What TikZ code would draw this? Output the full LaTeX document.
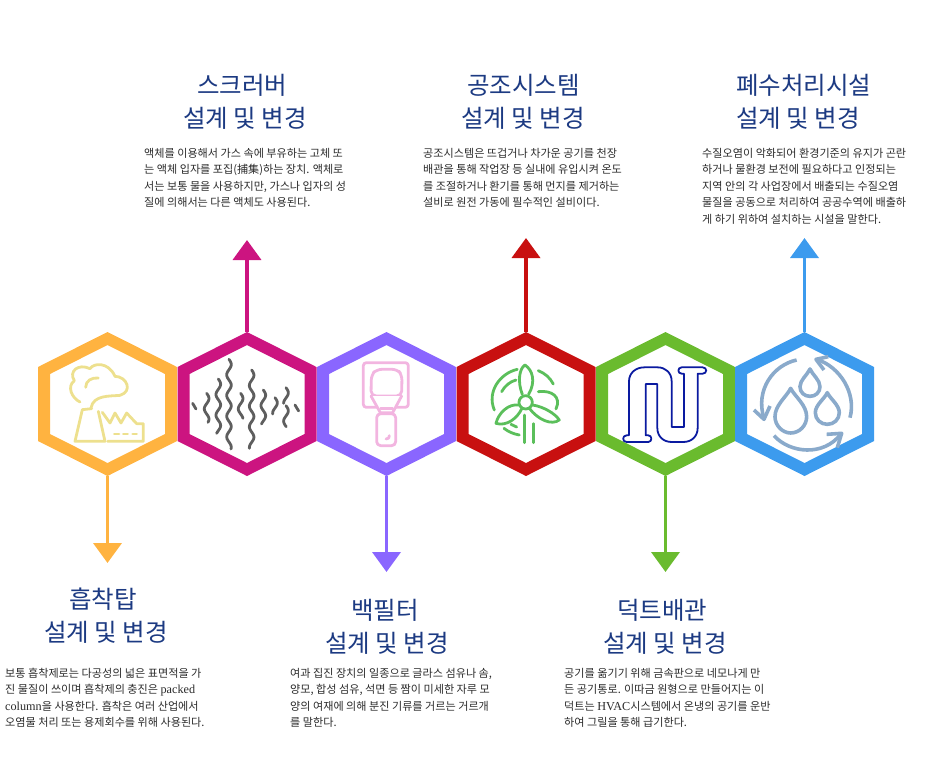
\documentclass[tikz,border=0pt]{standalone}
\usepackage{fontspec}
\usetikzlibrary{arrows.meta}
\setmainfont{Noto Sans CJK KR}
\newfontfamily\latfont[Scale=1.1]{Liberation Serif}
\definecolor{cOrange}{HTML}{FFB340}
\definecolor{cMagenta}{HTML}{CC1480}
\definecolor{cViolet}{HTML}{8A66FF}
\definecolor{cRed}{HTML}{C81010}
\definecolor{cGreen}{HTML}{6ABB2E}
\definecolor{cBlue}{HTML}{3C9BEE}
\definecolor{cTitle}{HTML}{1C3A82}
\definecolor{cBody}{HTML}{2A2A2A}
\definecolor{iYellow}{HTML}{EDE08E}
\definecolor{iGrey}{HTML}{5E5E5E}
\definecolor{iPink}{HTML}{F2B5E0}
\definecolor{iGreen}{HTML}{5BBF5B}
\definecolor{iNavy}{HTML}{0A1AA0}
\definecolor{iSteel}{HTML}{8AAACB}
\tikzset{
  x=1pt,y=-1pt,
  hexbox/.style={minimum width=139pt,minimum height=144pt,inner sep=0pt,outer sep=0pt},
  conn/.style={line width=3.8pt,-{Triangle[width=28pt,length=20pt]}},
  titletext/.style={anchor=north west,inner sep=0pt,align=left,text=cTitle,font=\fontsize{24.5}{33}\selectfont},
  bodytext/.style={anchor=north west,inner sep=0pt,align=left,text=cBody,font=\fontsize{11.1}{16.4}\selectfont},
  icon/.style={line width=2.8pt,line cap=round,line join=round},
  zoomA/.style={shift={(30,325)},x=.3333pt,y=-.3333pt},
  zoomB/.style={shift={(310,325)},x=.3333pt,y=-.3333pt},
  zoomC/.style={shift={(590,325)},x=.3333pt,y=-.3333pt},
  zoomD/.style={shift={(615,358)},x=.3333pt,y=-.3333pt},
  zoomE/.style={shift={(65,358)},x=.3333pt,y=-.3333pt},
}
\newcommand{\hexa}[3]{%
  \node[hexbox] (#1) at (#2,404) {};
  \begin{scope}[shift={(#2,404)}]
  \fill[#3,even odd rule]
    (0,-72) -- (69.5,-37) -- (69.5,37) -- (0,72) -- (-69.5,37) -- (-69.5,-37) -- cycle
    (0,-59) -- (57.5,-30) -- (57.5,30) -- (0,59) -- (-57.5,30) -- (-57.5,-30) -- cycle;
  \end{scope}}
\newcommand{\wavy}[3]{% cx, y1, y2
  \draw[icon,iGrey] plot[domain=#2:#3,samples=45,smooth] ({#1+7*sin(5.806*(\x-#2))},\x);}
\begin{document}
\begin{tikzpicture}
\useasboundingbox (0,0) rectangle (926,764);
% hexagons
\hexa{h1}{107.5}{cOrange}
\hexa{h2}{247}{cMagenta}
\hexa{h3}{386.5}{cViolet}
\hexa{h4}{526}{cRed}
\hexa{h5}{665.5}{cGreen}
\hexa{h6}{804.5}{cBlue}
% arrow ends
\coordinate (e1) at (107.5,563);
\coordinate (e2) at (247,240);
\coordinate (e3) at (386.5,572);
\coordinate (e4) at (526,238);
\coordinate (e5) at (665.5,572);
\coordinate (e6) at (804.5,238);
\draw[conn,cOrange] (h1.south) -- (e1);
\draw[conn,cMagenta] (h2.north) -- (e2);
\draw[conn,cViolet] (h3.south) -- (e3);
\draw[conn,cRed] (h4.north) -- (e4);
\draw[conn,cGreen] (h5.south) -- (e5);
\draw[conn,cBlue] (h6.north) -- (e6);
% titles
\node[titletext] (t2) at (183,74) {\hspace*{14pt}스크러버\\설계 및 변경};
\node[titletext] (t4) at (461,74) {\hspace*{6pt}공조시스템\\설계 및 변경};
\node[titletext] (t6) at (736,74) {폐수처리시설\\설계 및 변경};
\node[titletext] (t1) at (44,588) {\hspace*{25pt}흡착탑\\설계 및 변경};
\node[titletext] (t3) at (325,599) {\hspace*{26pt}백필터\\설계 및 변경};
\node[titletext] (t5) at (603,599) {\hspace*{14pt}덕트배관\\설계 및 변경};
% body text
\node[bodytext] (b2) at (144,148) {액체를 이용해서 가스 속에 부유하는 고체 또\\는 액체 입자를 포집(捕集)하는 장치. 액체로\\서는 보통 물을 사용하지만, 가스나 입자의 성\\질에 의해서는 다른 액체도 사용된다.};
\node[bodytext] (b4) at (423,148) {공조시스템은 뜨겁거나 차가운 공기를 천장\\배관을 통해 작업장 등 실내에 유입시켜 온도\\를 조절하거나 환기를 통해 먼지를 제거하는\\설비로 원전 가동에 필수적인 설비이다.};
\node[bodytext] (b6) at (702,148) {수질오염이 악화되어 환경기준의 유지가 곤란\\하거나 물환경 보전에 필요하다고 인정되는\\지역 안의 각 사업장에서 배출되는 수질오염\\물질을 공동으로 처리하여 공공수역에 배출하\\게 하기 위하여 설치하는 시설을 말한다.};
\node[bodytext] (b1) at (5,668) {보통 흡착제로는 다공성의 넓은 표면적을 가\\진 물질이 쓰이며 흡착제의 충진은 {\latfont packed}\\{\latfont column}을 사용한다. 흡착은 여러 산업에서\\오염물 처리 또는 용제회수를 위해 사용된다.};
\node[bodytext] (b3) at (290,668) {여과 집진 장치의 일종으로 글라스 섬유나 솜,\\양모, 합성 섬유, 석면 등 짬이 미세한 자루 모\\양의 여재에 의해 분진 기류를 거르는 거르개\\를 말한다.};
\node[bodytext] (b5) at (564,668) {공기를 옮기기 위해 금속판으로 네모나게 만\\든 공기통로. 이따금 원형으로 만들어지는 이\\덕트는 {\latfont HVAC}시스템에서 온냉의 공기를 운반\\하여 그릴을 통해 급기한다.};
% icon 1: factory
\begin{scope}[zoomE]
\draw[icon,iYellow] (45,132) .. controls (20,120) and (5,85) .. (28,68) .. controls (10,40) and (40,15) .. (75,32) .. controls (85,15) and (130,10) .. (150,55) .. controls (185,55) and (205,100) .. (165,112) .. controls (135,115) and (85,110) .. (78,150);
\draw[icon,iYellow] (62,88) .. controls (62,68) and (80,58) .. (100,60);
\draw[icon,iYellow] (100,160) -- (120,250) -- (30,250) -- (52,155) -- (80,152);
\draw[icon,iYellow] (128,250) -- (235,250) -- (235,197) -- (215,197) -- (185,165) -- (168,195) -- (150,165) -- (135,195) -- (112,163);
\draw[icon,iYellow] (148,228) -- (162,228) (175,228) -- (188,228) (203,228) -- (215,228);
\end{scope}
% icon 2: waves
\begin{scope}[zoomA]
\wavy{597}{103}{372}
\wavy{665}{135}{370}
\wavy{565}{162}{325}
\wavy{530}{205}{292}
\wavy{632}{205}{280}
\wavy{700}{195}{297}
\wavy{735}{218}{267}
\wavy{768}{188}{235}
\wavy{768}{242}{305}
\draw[icon,iGrey] (488,235) -- (498,252);
\draw[icon,iGrey] (795,240) -- (806,258);
\end{scope}
% icon 3: filter
\begin{scope}[zoomB]
\draw[icon,iPink,rounded corners=3pt] (160,113) rectangle (295,247);
\draw[icon,iPink,fill=white,rounded corners=5pt] (200,133) -- (262,133) -- (276,150) -- (275,213) -- (183,213) -- (184,150) -- cycle;
\draw[icon,iPink,fill=white] (183,213) -- (211,263) -- (248,263) -- (275,213);
\draw[icon,iPink] (212,250) -- (248,250);
\draw[icon,iPink,fill=white,rounded corners=4pt] (200,266) rectangle (257,362);
\draw[icon,iPink] (228,342) .. controls (236,342) and (238,338) .. (238,332);
\end{scope}
% icon 4: turbine
\begin{scope}[zoomB]
\draw[icon,iGreen] (647,232) circle[radius=20];
\draw[icon,iGreen] (637,208) .. controls (622,170) and (628,130) .. (645,120) .. controls (668,135) and (678,170) .. (656,208);
\draw[icon,iGreen] (668,240) .. controls (700,245) and (735,265) .. (748,285) .. controls (725,302) and (685,285) .. (658,250);
\draw[icon,iGreen] (627,240) .. controls (595,235) and (565,265) .. (558,295) .. controls (590,305) and (622,280) .. (636,250);
\draw[icon,iGreen] (644,270) -- (644,353) (670,296) -- (670,353);
\draw[icon,iGreen] (622,133) .. controls (570,145) and (530,200) .. (553,255);
\draw[icon,iGreen] (618,165) .. controls (600,170) and (585,182) .. (575,200);
\draw[icon,iGreen] (685,137) .. controls (705,145) and (720,158) .. (730,177);
\draw[icon,iGreen] (685,200) .. controls (725,195) and (755,215) .. (738,252);
\draw[icon,iGreen] (582,310) .. controls (595,320) and (610,327) .. (628,330);
\draw[icon,iGreen] (603,298) -- (620,306);
\end{scope}
% icon 5: pipe
\begin{scope}[zoomD]
\draw[iNavy,line width=1.8pt,line join=round]
  (35,232) -- (42,232) -- (42,70) .. controls (42,45) and (62,28) .. (88,28)
  -- (128,28) .. controls (152,28) and (170,45) .. (170,70)
  -- (170,207) -- (207,207) -- (207,47) -- (200,47)
  .. controls (187,47) and (187,28) .. (200,28) -- (263,28)
  .. controls (277,28) and (277,47) .. (263,47) -- (248,47)
  -- (248,210) .. controls (248,235) and (230,252) .. (205,252)
  -- (170,252) .. controls (145,252) and (127,235) .. (127,210)
  -- (127,78) -- (92,78) -- (92,232) -- (100,232)
  .. controls (112,232) and (112,252) .. (100,252) -- (35,252)
  .. controls (21,252) and (21,232) .. (35,232) -- cycle;
\end{scope}
% icon 6: water
\begin{scope}[zoomC]
\tikzset{water/.style={line width=3.6pt,iSteel,line join=round}}
\draw[water] (602,190) .. controls (590,215) and (555,240) .. (555,275) .. controls (555,302) and (578,324) .. (602,324) .. controls (628,324) and (650,302) .. (650,275) .. controls (650,240) and (615,215) .. (602,190) -- cycle;
\draw[water] (712,203) .. controls (703,222) and (676,240) .. (676,263) .. controls (676,283) and (692,298) .. (712,298) .. controls (732,298) and (748,283) .. (748,263) .. controls (748,240) and (721,222) .. (712,203) -- cycle;
\draw[water] (660,132) .. controls (652,150) and (630,165) .. (630,185) .. controls (630,202) and (643,214) .. (660,214) .. controls (677,214) and (690,202) .. (690,185) .. controls (690,165) and (668,150) .. (660,132) -- cycle;
\draw[water] (620,105) .. controls (550,120) and (495,195) .. (522,280);
\draw[water] (492,255) -- (522,283) -- (540,243);
\draw[water] (780,278) .. controls (800,205) and (750,125) .. (680,103);
\draw[water] (715,95) -- (678,103) -- (702,135);
\draw[water] (552,332) .. controls (600,385) and (700,395) .. (752,328);
\draw[water] (710,328) -- (755,325) -- (742,368);
\end{scope}
\end{tikzpicture}
\end{document}
